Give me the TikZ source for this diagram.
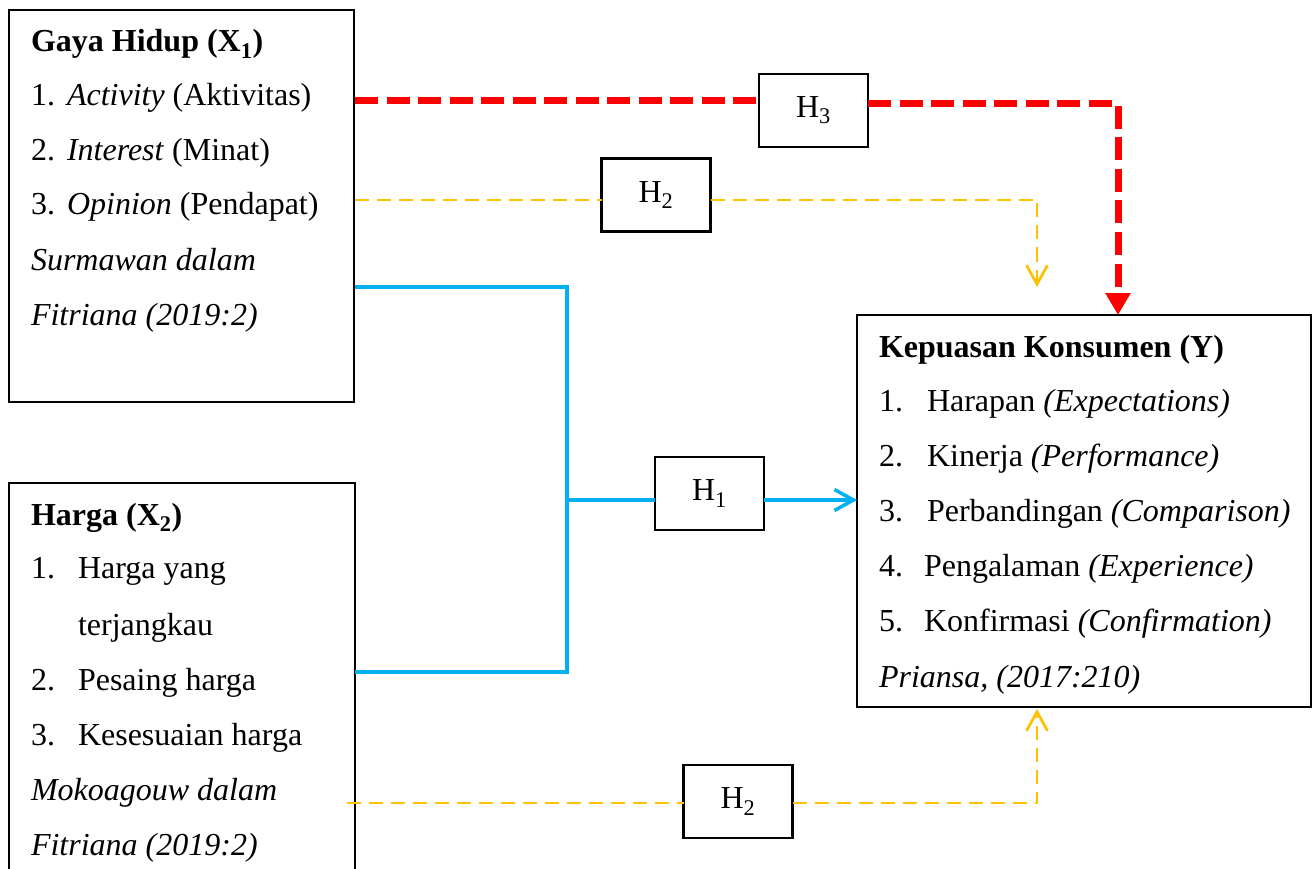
\documentclass[tikz,border=0pt]{standalone}
\usepackage{fontspec}
\setmainfont{Liberation Serif}
\usetikzlibrary{arrows.meta}
\definecolor{redl}{HTML}{FF0000}
\definecolor{goldl}{HTML}{FFC000}
\definecolor{skyl}{HTML}{00B0F0}
\begin{document}
\begin{tikzpicture}[x=1pt,y=-1pt,
  txt/.style={anchor=base west, inner sep=0pt, outer sep=0pt, font=\fontsize{32}{38}\selectfont},
  bigbox/.style={draw=black, line width=2pt, inner sep=0pt, outer sep=0pt, anchor=north west},
  hbox/.style={draw=black, line width=2.5pt, fill=white, inner sep=0pt, outer sep=0pt, minimum width=109pt, minimum height=73pt, font=\fontsize{32}{38}\selectfont},
  redpath/.style={draw=redl, line width=7pt, dash pattern=on 23pt off 8.5pt},
  goldpath/.style={draw=goldl, line width=2.7pt, dash pattern=on 14pt off 8pt},
  skypath/.style={draw=skyl, line width=3.5pt},
  barb/.style={-{Straight Barb[length=19pt,width=21pt]}},
  redtip/.style={-{Triangle[length=22pt,width=24pt]}}
]
\useasboundingbox (0,0) rectangle (1312,869);
\clip (0,0) rectangle (1312,869);

% boxes
\node[bigbox, minimum width=345pt, minimum height=392pt] (x1box) at (9,10) {};
\node[bigbox, minimum width=346pt, minimum height=420pt] (x2box) at (9,483) {};
\node[bigbox, minimum width=454pt, minimum height=392pt] (ybox) at (857,315) {};

% hypothesis boxes
\node[hbox] (h3) at (813.5,110.5) {H\textsubscript{3}};
\node[hbox] (h2t) at (656,195) {H\textsubscript{2}};
\node[hbox] (h1) at (709.5,493.5) {H\textsubscript{1}};
\node[hbox] (h2b) at (738,801.5) {H\textsubscript{2}};

% coordinates
\coordinate (rA) at (355,101);
\coordinate (rB) at (1118,104);
\coordinate (yA) at (355,200);
\coordinate (yB) at (1037,200);
\coordinate (yT) at (1037,287);
\coordinate (bA) at (355,287);
\coordinate (bJ1) at (567,287);
\coordinate (bJ2) at (567,672);
\coordinate (bB) at (355,672);
\coordinate (bM) at (567,500);
\coordinate (gA) at (347,803);
\coordinate (gB) at (1037,803);
\coordinate (gT) at (1037,709);

% connectors
\draw[redpath] (rA) -- (h3.west |- rA);
\draw[redpath, redtip] (h3.east |- rB) -- (rB) -- (rB |- ybox.north);
\draw[goldpath] (yA) -- (h2t.west |- yA);
\draw[goldpath, barb] (h2t.east |- yA) -- (yB) -- (yT);
\draw[skypath] (bA) -- (bJ1) -- (bJ2) -- (bB);
\draw[skypath] (bM) -- (h1.west |- bM);
\draw[skypath, barb] (h1.east |- bM) -- (ybox.west |- bM);
\draw[goldpath] (gA) -- (h2b.west |- gA);
\draw[goldpath, barb] (h2b.east |- gA) -- (gB) -- (gT);

% X1 text
\node[txt] (t11) at (31,52) {\textbf{Gaya Hidup (X\textsubscript{1})}};
\node[txt] (t12n) at (31,106) {1.};
\node[txt] (t12) at (67,106) {\textit{Activity} (Aktivitas)};
\node[txt] (t13n) at (31,161) {2.};
\node[txt] (t13) at (67,161) {\textit{Interest} (Minat)};
\node[txt] (t14n) at (31,215) {3.};
\node[txt] (t14) at (67,215) {\textit{Opinion} (Pendapat)};
\node[txt] (t15) at (31,270) {\textit{Surmawan dalam}};
\node[txt] (t16) at (31,325) {\textit{Fitriana (2019:2)}};

% X2 text
\node[txt] (t21) at (31,525) {\textbf{Harga (X\textsubscript{2})}};
\node[txt] (t22n) at (31,578) {1.};
\node[txt] (t22) at (78,578) {Harga yang};
\node[txt] (t22b) at (78,635) {terjangkau};
\node[txt] (t23n) at (31,690) {2.};
\node[txt] (t23) at (78,690) {Pesaing harga};
\node[txt] (t24n) at (31,745) {3.};
\node[txt] (t24) at (78,745) {Kesesuaian harga};
\node[txt] (t25) at (31,800) {\textit{Mokoagouw dalam}};
\node[txt] (t26) at (31,855) {\textit{Fitriana (2019:2)}};

% Y text
\node[txt] (y1) at (879,357) {\textbf{Kepuasan Konsumen (Y)}};
\node[txt] (y2n) at (879,411) {1.};
\node[txt] (y2) at (927,411) {Harapan \textit{(Expectations)}};
\node[txt] (y3n) at (879,466) {2.};
\node[txt] (y3) at (927,466) {Kinerja \textit{(Performance)}};
\node[txt] (y4n) at (879,521) {3.};
\node[txt] (y4) at (927,521) {Perbandingan \textit{(Comparison)}};
\node[txt] (y5n) at (879,576) {4.};
\node[txt] (y5) at (924,576) {Pengalaman \textit{(Experience)}};
\node[txt] (y6n) at (879,631) {5.};
\node[txt] (y6) at (924,631) {Konfirmasi \textit{(Confirmation)}};
\node[txt] (y7) at (879,687) {\textit{Priansa, (2017:210)}};
\end{tikzpicture}
\end{document}
